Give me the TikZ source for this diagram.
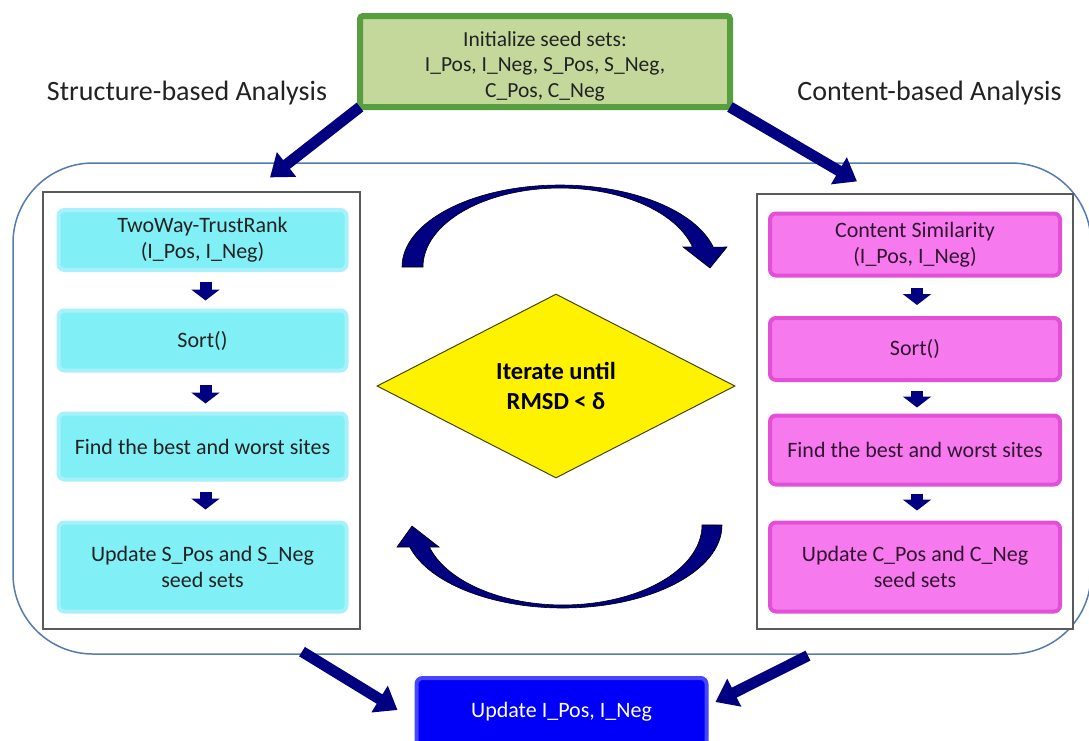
\documentclass[tikz,border=0pt]{standalone}
\usepackage{fontspec}
\setmainfont{Carlito}
\usetikzlibrary{shapes.geometric,arrows.meta,calc}
\definecolor{navyA}{RGB}{0,0,128}
\definecolor{greenF}{RGB}{196,216,155}
\definecolor{greenE}{RGB}{86,158,62}
\definecolor{cyanF}{RGB}{128,240,246}
\definecolor{cyanE}{RGB}{168,240,250}
\definecolor{magF}{RGB}{246,122,238}
\definecolor{magE}{RGB}{226,80,216}
\definecolor{blueF}{RGB}{0,0,248}
\definecolor{blueE}{RGB}{70,70,255}
\definecolor{outerE}{RGB}{84,124,172}
\definecolor{panelE}{RGB}{90,90,90}
\definecolor{diaE}{RGB}{70,70,0}
\definecolor{textD}{RGB}{34,34,34}
\definecolor{textM}{RGB}{50,20,50}
\begin{document}
\begin{tikzpicture}[x=1pt,y=-1pt,
  base/.style={font=\fontsize{22}{26}\selectfont, align=center, inner sep=0pt},
  greenbox/.style={rectangle, fill=greenF, draw=greenE, line width=6pt, rounded corners=3pt, minimum width=370pt, minimum height=91pt, inner sep=0pt},
  cyanbox/.style={base, rectangle, rounded corners=6pt, fill=cyanF, draw=cyanE, line width=4pt, minimum width=288pt, text=textD},
  magbox/.style={base, rectangle, rounded corners=6pt, fill=magF, draw=magE, line width=4pt, minimum width=290pt, text=textM},
  bluebox/.style={base, rectangle, rounded corners=6pt, fill=blueF, draw=blueE, line width=4pt, text=white},
  panel/.style={rectangle, draw=panelE, fill=white, line width=1.2pt, inner sep=0pt},
  lbl/.style={font=\fontsize{28}{32}\selectfont, text=textD, inner sep=0pt},
  blockarrow/.style={draw=navyA, line width=11pt, -{Triangle[width=30pt,length=21pt]}},
  smallarrow/.style={draw=navyA, line width=12pt, -{Triangle[width=28pt,length=11pt]}},
  curvearrow/.style={fill=navyA, draw=black, line width=0.6pt, line join=miter}
]
\clip (0,0) rectangle (1089,740);
\useasboundingbox (0,0) rectangle (1089,740);
\fill[white] (0,0) rectangle (1089,740);

% outer rounded frame
\draw[draw=outerE, line width=1.5pt, rounded corners=80pt] (13,163) rectangle (1091,654);

% panels
\node[panel, minimum width=317pt, minimum height=437pt] (lp) at (201.5,410.5) {};
\node[panel, minimum width=316pt, minimum height=435pt] (rp) at (915,411.5) {};

% top box
\node[greenbox] (init) at (545,61.5) {};
\node[base, text=textD, font=\fontsize{21.5}{25.5}\selectfont] (initT) at (545,66) {Initialize seed sets:\\I\_Pos, I\_Neg, S\_Pos, S\_Neg,\\C\_Pos, C\_Neg};

% labels
\node[lbl] (sa) at (187,93) {Structure-based Analysis};
\node[lbl] (ca) at (929.5,93) {Content-based Analysis};

% left column
\node[cyanbox, minimum height=60pt] (s1) at (202.5,240) {TwoWay-TrustRank\\(I\_Pos, I\_Neg)};
\node[cyanbox, minimum height=60pt] (s2) at (202.5,340.5) {Sort()};
\node[cyanbox, minimum height=66pt] (s3) at (202.5,446.5) {Find the best and worst sites};
\node[cyanbox, minimum height=89pt] (s4) at (202.5,567) {Update S\_Pos and S\_Neg\\seed sets};

% right column
\node[magbox, minimum height=62pt] (c1) at (915,244.5) {Content Similarity\\(I\_Pos, I\_Neg)};
\node[magbox, minimum height=62pt] (c2) at (915,349) {Sort()};
\node[magbox, minimum height=69pt] (c3) at (915,450) {Find the best and worst sites};
\node[magbox, minimum height=89pt] (c4) at (915,567) {Update C\_Pos and C\_Neg\\seed sets};

% small arrows
\draw[smallarrow] ($(s1.south)+(3,10)$) -- ($(s2.north)+(3,-8)$);
\draw[smallarrow] ($(s2.south)+(3,12)$) -- ($(s3.north)+(3,-8)$);
\draw[smallarrow] ($(s3.south)+(3,10)$) -- ($(s4.north)+(3,-11)$);
\draw[smallarrow] ($(c1.south)+(2,10)$) -- ($(c2.north)+(2,-11)$);
\draw[smallarrow] ($(c2.south)+(2,9)$) -- ($(c3.north)+(2,-6)$);
\draw[smallarrow] ($(c3.south)+(2,7)$) -- ($(c4.north)+(2,-10)$);

% diamond
\node[diamond, draw=diaE, fill=yellow, line width=1pt, aspect=1.95, minimum width=358pt, minimum height=184pt, inner sep=0pt, align=center, text=black, font=\bfseries\fontsize{24.5}{30}\selectfont] (it) at (556,386) {Iterate until\\RMSD < δ};

% bottom box
\node[bluebox, minimum width=290pt, minimum height=72pt] (upd) at (561.5,714) {};
\node[base, text=white] (updT) at (561.5,712) {Update I\_Pos, I\_Neg};

% big block arrows
\draw[blockarrow] ($(init.south west)+(3,-3)$) -- ($(lp.north)+(68.5,-14)$);
\draw[blockarrow] ($(init.south east)+(-3,-3)$) -- ($(rp.north)+(-58,-12)$);
\draw[blockarrow] ($(lp.south)+(100.5,22)$) -- ($(upd.west)+(-17,-4)$);
\draw[blockarrow] ($(rp.south)+(-107,26)$) -- ($(upd.east)+(7,-12)$);

% curved arrows
\path[curvearrow] (402,267) arc[start angle=180, end angle=346, x radius=158, y radius=82]
  -- (727,247) -- (710,268) -- (683,247) -- (692.5,247)
  arc[start angle=345.3, end angle=180, x radius=137, y radius=79] -- cycle;
\path[curvearrow] (722,525) arc[start angle=0, end angle=164.6, x radius=159, y radius=83]
  -- (397,547) -- (412,526) -- (439,547) -- (429.4,547)
  arc[start angle=164, end angle=0, x radius=139, y radius=80] -- cycle;
\end{tikzpicture}
\end{document}
